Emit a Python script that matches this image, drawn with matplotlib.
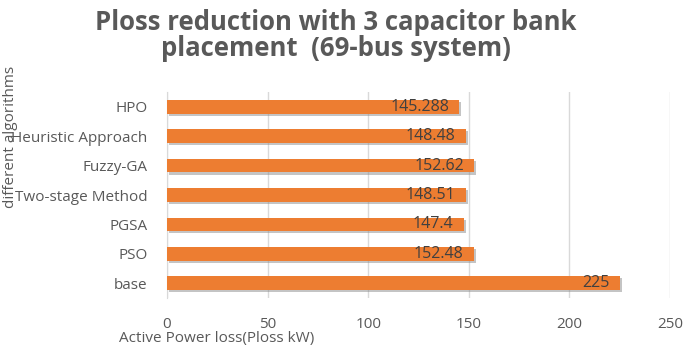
import matplotlib
matplotlib.use("Agg")
import matplotlib.pyplot as plt
import matplotlib.patheffects as pe

categories = ["base", "PSO", "PGSA", "Two-stage Method", "Fuzzy-GA", "Heuristic Approach", "HPO"]
values = [225, 152.48, 147.4, 148.51, 152.62, 148.48, 145.288]
labels = ["225", "152.48", "147.4", "148.51", "152.62", "148.48", "145.288"]
xticks = [0, 50, 100, 150, 200, 250]

plt.rcParams['font.family'] = ['Open Sans', 'DejaVu Sans']
gray = '#595959'

fig = plt.figure(figsize=(6.85, 3.49), dpi=100)
ax = fig.add_axes([0.2438, 0.1461, 0.978 - 0.2438, 0.7364 - 0.1461])

ypos = list(range(len(categories)))
bars = ax.barh(ypos, values, height=0.47, color='#ED7D31', zorder=3)
for b in bars:
    b.set_path_effects([pe.SimplePatchShadow(offset=(1.5, -1.5), shadow_rgbFace='#8a8a8a', alpha=0.5), pe.Normal()])

for y, v, lab in zip(ypos, values, labels):
    ax.text(v - 5, y, lab, ha='right', va='center', fontsize=11.5, color='#404040', zorder=4)

ax.set_xlim(0, 250)
ax.set_ylim(-0.5, 6.5)
ax.set_xticks(xticks)
ax.set_xticklabels([str(t) for t in xticks])
ax.set_yticks(ypos)
ax.set_yticklabels(categories)
ax.tick_params(axis='both', length=0, labelsize=11, colors=gray)
ax.tick_params(axis='x', pad=14)
ax.tick_params(axis='y', pad=14)
ax.grid(axis='x', color='#d9d9d9', linewidth=1, zorder=0)
for s in ['top', 'right', 'bottom']:
    ax.spines[s].set_visible(False)
ax.spines['left'].set_color('#d9d9d9')

fig.text(0.49, 0.935, "Ploss reduction with 3 capacitor bank", ha='center', va='center',
         fontsize=18.5, fontweight='bold', color=gray)
fig.text(0.49, 0.86, "placement  (69-bus system)", ha='center', va='center',
         fontsize=18.5, fontweight='bold', color=gray)
fig.text(0.316, 0.03, "Active Power loss(Ploss kW)", ha='center', va='center', fontsize=11, color=gray)
fig.text(0.016, 0.607, "different algorithms", ha='center', va='center', rotation=90, fontsize=11, color=gray)

fig.savefig("out.png", dpi=100)
